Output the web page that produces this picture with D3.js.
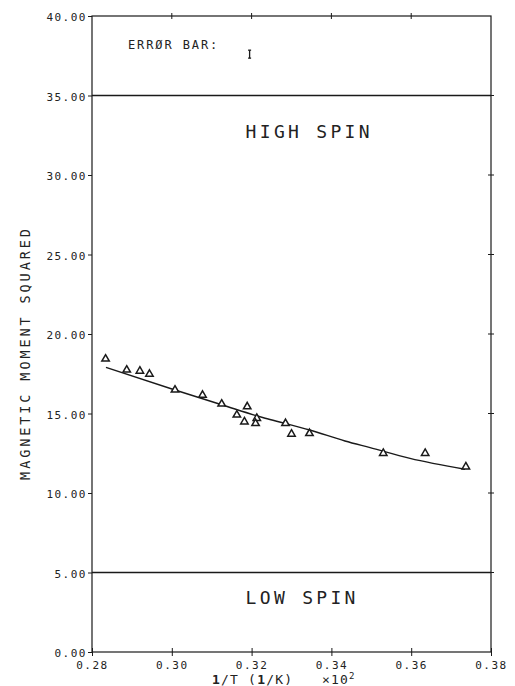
<!DOCTYPE html>
<html><head><meta charset="utf-8">
<script src="https://cdn.jsdelivr.net/npm/d3@7"></script>
<style>
html,body{margin:0;padding:0;background:#fff;}
svg{display:block;}
text{font-family:"DejaVu Sans Mono",monospace;fill:#222;}
</style></head>
<body>
<svg id="c" width="515" height="686"></svg>
<script>
// ---- data ----
const xTicks = [0.28, 0.30, 0.32, 0.34, 0.36, 0.38];
const xTickLabels = ["0.28", "0.30", "0.32", "0.34", "0.36", "0.38"];
const yTicks = [0, 5, 10, 15, 20, 25, 30, 35, 40];
const yTickLabels = ["0.00", "5.00", "10.00", "15.00", "20.00", "25.00", "30.00", "35.00", "40.00"];
const pointX = [0.2834, 0.2887, 0.2920, 0.2944, 0.3008, 0.3077, 0.3125, 0.3189, 0.3163, 0.3182, 0.3213, 0.3210, 0.3285, 0.3300, 0.3345, 0.3530, 0.3635, 0.3737];
const pointY = [18.43, 17.74, 17.67, 17.48, 16.48, 16.16, 15.60, 15.43, 14.91, 14.48, 14.70, 14.38, 14.38, 13.71, 13.75, 12.50, 12.50, 11.65];
const fitX = [0.2835, 0.3008, 0.3125, 0.3234, 0.3284, 0.3346, 0.3434, 0.3497, 0.3597, 0.3735];
const fitY = [17.90, 16.48, 15.55, 14.70, 14.38, 13.96, 13.27, 12.85, 12.18, 11.49];
const regionBounds = [5, 35];
const regionLabels = [{text: "HIGH SPIN", y: 32.3}, {text: "LOW SPIN", y: 3.0}];
const errorBarLabel = "ERRØR BAR:";
const errorBarHalf = 0.25;   // half-length of error bar in y units
const errorBarAt = [0.3195, 37.6];
const yTitle = "MAGNETIC MOMENT SQUARED";

// ---- chart ----
const svg = d3.select("#c");
const x = d3.scaleLinear().domain([0.28, 0.38]).range([92, 491]);
const y = d3.scaleLinear().domain([0, 40]).range([652, 16]);
const ink = "#1a1a1a";

// frame
svg.append("rect").attr("x", x(0.28)).attr("y", y(40))
  .attr("width", x(0.38) - x(0.28)).attr("height", y(0) - y(40))
  .attr("fill", "none").attr("stroke", ink).attr("stroke-width", 1.2);

// region boundaries
svg.selectAll("line.reg").data(regionBounds).join("line").attr("class", "reg")
  .attr("x1", x(0.28)).attr("x2", x(0.38))
  .attr("y1", d => y(d)).attr("y2", d => y(d))
  .attr("stroke", ink).attr("stroke-width", 1.3);

// left axis
const ga = svg.append("g").attr("transform", `translate(${x(0.28)},0)`)
  .call(d3.axisLeft(y).tickValues(yTicks).tickFormat((d, i) => yTickLabels[i]).tickSize(4).tickPadding(1));
ga.select(".domain").remove();
ga.selectAll("line").attr("stroke", ink);
ga.selectAll("text").style("font-family", "DejaVu Sans Mono").style("font-size", "11px")
  .style("letter-spacing", "1.5px").attr("fill", "#222").attr("dy", "0.45em");

// bottom axis
const gb = svg.append("g").attr("transform", `translate(0,${y(0)})`)
  .call(d3.axisBottom(x).tickValues(xTicks).tickFormat((d, i) => xTickLabels[i]).tickSize(4).tickPadding(5));
gb.select(".domain").remove();
gb.selectAll("line").attr("stroke", ink).attr("y1", -4);
gb.selectAll("text").style("font-family", "DejaVu Sans Mono").style("font-size", "11px")
  .style("letter-spacing", "1.5px").attr("fill", "#222");
gb.selectAll("text").filter((d, i) => i === xTicks.length - 1).attr("fill", "#999");

// top ticks (crossing)
svg.selectAll("line.tt").data(xTicks.slice(1, -1)).join("line").attr("class", "tt")
  .attr("x1", d => x(d)).attr("x2", d => x(d)).attr("y1", y(40) - 3).attr("y2", y(40) + 3)
  .attr("stroke", ink);
// right ticks (crossing)
svg.selectAll("line.rt").data(yTicks.slice(1, -1)).join("line").attr("class", "rt")
  .attr("x1", x(0.38) - 3).attr("x2", x(0.38) + 3).attr("y1", d => y(d)).attr("y2", d => y(d))
  .attr("stroke", ink);

// fit curve
const line = d3.line().x(d => x(d[0])).y(d => y(d[1])).curve(d3.curveMonotoneX);
svg.append("path").datum(fitX.map((v, i) => [v, fitY[i]]))
  .attr("d", line).attr("fill", "none").attr("stroke", ink).attr("stroke-width", 1.4);

// points
const tri = d3.symbol().type(d3.symbolTriangle).size(24);
svg.selectAll("path.pt").data(pointX.map((v, i) => [v, pointY[i]])).join("path").attr("class", "pt")
  .attr("transform", d => `translate(${x(d[0])},${y(d[1])})`)
  .attr("d", tri).attr("fill", "#fff").attr("stroke", ink).attr("stroke-width", 1.5);

// region labels
svg.selectAll("text.rl").data(regionLabels).join("text").attr("class", "rl")
  .attr("x", x(0.3185)).attr("y", d => y(d.y))
  .style("font-size", "18px").style("letter-spacing", "3.3px").attr("fill", "#2a2a2a")
  .text(d => d.text);

// error bar legend
svg.append("text").attr("x", x(0.2890)).attr("y", 49)
  .style("font-size", "12px").style("letter-spacing", "1.9px").text(errorBarLabel);
const ex = x(errorBarAt[0]);
const eb = svg.append("g").attr("stroke", ink).attr("stroke-width", 1.3);
eb.append("line").attr("x1", ex).attr("x2", ex).attr("y1", y(errorBarAt[1] + errorBarHalf)).attr("y2", y(errorBarAt[1] - errorBarHalf));
eb.append("line").attr("x1", ex - 1.5).attr("x2", ex + 1.5).attr("y1", y(errorBarAt[1] + errorBarHalf)).attr("y2", y(errorBarAt[1] + errorBarHalf));
eb.append("line").attr("x1", ex - 1.5).attr("x2", ex + 1.5).attr("y1", y(errorBarAt[1] - errorBarHalf)).attr("y2", y(errorBarAt[1] - errorBarHalf));

// y title
svg.append("text").attr("transform", `translate(30,${y(18.8)}) rotate(-90)`)
  .attr("text-anchor", "middle").style("font-size", "13.5px").style("letter-spacing", "2.9px")
  .text(yTitle);

// x title
const xt = svg.append("text").attr("x", 212).attr("y", 684).style("font-size", "13px").style("letter-spacing", "1.2px");
xt.append("tspan").style("font-weight", "bold").text("1");
xt.append("tspan").text("/T (");
xt.append("tspan").style("font-weight", "bold").text("1");
xt.append("tspan").text("/K)");
const xt2 = svg.append("text").attr("x", 322).attr("y", 684).style("font-size", "13px").style("letter-spacing", "1.2px");
xt2.append("tspan").text("×10");
xt2.append("tspan").attr("dy", -5).style("font-size", "9px").text("2");
</script>
</body></html>
